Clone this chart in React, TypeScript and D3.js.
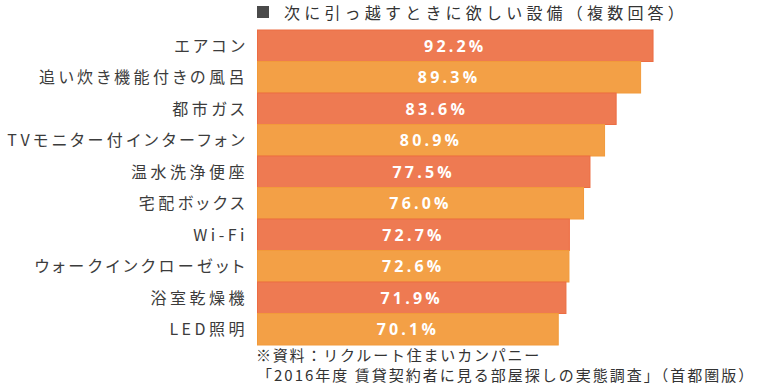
import React from 'react'
import * as d3 from 'd3'

const WIDTH = 780
const HEIGHT = 389

const TITLE = '次に引っ越すときに欲しい設備（複数回答）'
const NOTE_LINE_1 = '※資料：リクルート住まいカンパニー'
const NOTE_LINE_2 = '「2016年度 賃貸契約者に見る部屋探しの実態調査」（首都圏版）'

const categories = [
  'エアコン',
  '追い炊き機能付きの風呂',
  '都市ガス',
  'TVモニター付インターフォン',
  '温水洗浄便座',
  '宅配ボックス',
  'Wi-Fi',
  'ウォークインクローゼット',
  '浴室乾燥機',
  'LED照明',
]
const values = [92.2, 89.3, 83.6, 80.9, 77.5, 76.0, 72.7, 72.6, 71.9, 70.1]

const FILLS = ['#ee7a52', '#f3a046']
const STROKES = ['#ec6d43', '#f29a3a']

const JP_FONT = '"Noto Sans CJK JP", "Noto Sans", sans-serif'

export default function App() {
  const x = d3.scaleLinear().domain([0, 100]).range([257.5, 257.5 + 429])
  const y = d3.scaleBand().domain(categories).range([30, 345]).padding(0)

  return (
    <svg
      width={WIDTH}
      height={HEIGHT}
      style={{ position: 'absolute', left: 0, top: 0, display: 'block', background: '#fff' }}
    >
      {/* title */}
      <rect x={257} y={6} width={12} height={12} fill="#4a4a4a" />
      <text
        x={284}
        y={19}
        fontFamily={JP_FONT}
        fontSize={16}
        letterSpacing={4.2}
        fill="#333"
      >
        {TITLE}
      </text>

      {/* bars */}
      <g>
        {categories.map((c, i) => (
          <rect
            key={c}
            x={x(0)}
            y={y(c)!}
            width={x(values[i]) - x(0)}
            height={y.bandwidth()}
            fill={FILLS[i % 2]}
            stroke={STROKES[i % 2]}
            strokeWidth={1}
          />
        ))}
      </g>

      {/* value labels */}
      <g>
        {categories.map((c, i) => (
          <text
            key={c}
            x={(x(0) + x(values[i])) / 2}
            y={y(c)! + y.bandwidth() / 2}
            dy="0.36em"
            textAnchor="middle"
            fontFamily='"Open Sans", "Noto Sans", sans-serif'
            fontWeight={700}
            fontSize={16}
            letterSpacing={3.2}
            fill="#fff"
          >
            {values[i].toFixed(1) + '%'}
          </text>
        ))}
      </g>

      {/* category labels */}
      <g>
        {categories.map((c) => (
          <text
            key={c}
            x={248}
            y={y(c)! + y.bandwidth() / 2}
            dy="0.36em"
            textAnchor="end"
            fontFamily={JP_FONT}
            fontSize={16}
            letterSpacing={3.5}
            fill="#3c3c3c"
            style={{ fontFeatureSettings: '"palt"' }}
          >
            {c}
          </text>
        ))}
      </g>

      {/* source note */}
      <text x={256} y={361} fontFamily={JP_FONT} fontSize={15} letterSpacing={1.8} fill="#333">
        {NOTE_LINE_1}
      </text>
      <text x={257} y={381} fontFamily={JP_FONT} fontSize={15} letterSpacing={2} fill="#333">
        {NOTE_LINE_2}
      </text>
    </svg>
  )
}
